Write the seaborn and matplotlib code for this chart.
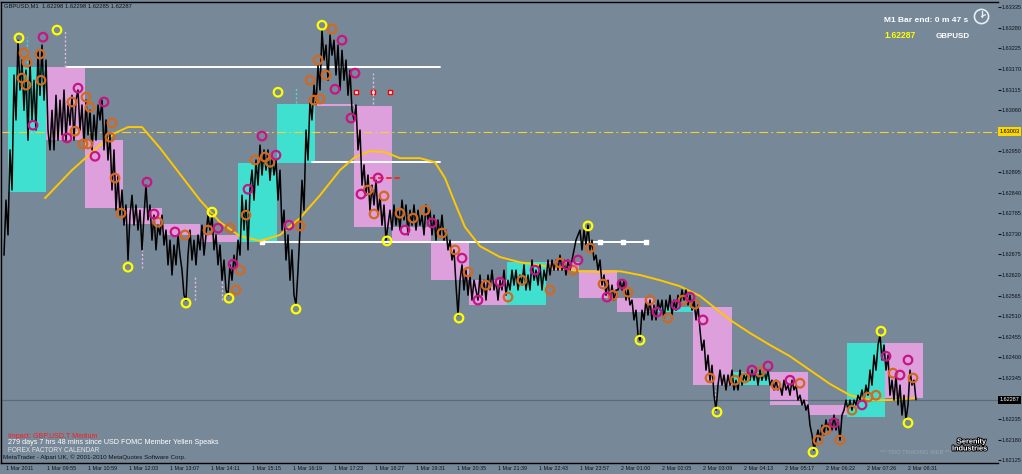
import numpy as np
import matplotlib
matplotlib.use('Agg')
import matplotlib.pyplot as plt
import matplotlib.patheffects as pe
from matplotlib.transforms import ScaledTranslation, blended_transform_factory
from matplotlib.patches import Circle
import seaborn as sns

# GBPUSD M1 closes, 1 Mar 2011 08:51 -> 2 Mar 2011 09:10 (sampled every ~3 bars)
close_a = [1.62673, 1.62820, 1.62727, 1.62954, 1.62847, 1.63154, 1.63034, 1.63247, 1.63114, 1.63194, 1.63060, 1.63167,
           1.62980, 1.63194, 1.63034, 1.63140, 1.63007, 1.63220, 1.63100, 1.63234, 1.63087, 1.63194, 1.63007, 1.62954]
close_b = [1.63060, 1.62954, 1.63100, 1.62980, 1.63087, 1.62994, 1.63114, 1.62980, 1.63074, 1.63020, 1.63100, 1.62980,
           1.63087, 1.63114, 1.63007, 1.63074, 1.62967, 1.63087, 1.62994, 1.63060, 1.62954, 1.63047, 1.62980, 1.63074,
           1.63034, 1.63087, 1.62954, 1.63034, 1.62927, 1.62994, 1.62847, 1.62954, 1.62793, 1.62887, 1.62780, 1.62847]
close_c = [1.62753, 1.62807, 1.62660, 1.62780, 1.62833, 1.62753, 1.62807, 1.62740, 1.62793, 1.62687, 1.62780, 1.62860,
           1.62767, 1.62807, 1.62713, 1.62780, 1.62687, 1.62753, 1.62727, 1.62780, 1.62700, 1.62740, 1.62647, 1.62713,
           1.62620, 1.62700, 1.62647, 1.62727, 1.62673, 1.62633, 1.62566, 1.62553, 1.62673, 1.62740, 1.62660, 1.62713,
           1.62647, 1.62727, 1.62687, 1.62753, 1.62673, 1.62727, 1.62780, 1.62740, 1.62780, 1.62687, 1.62727, 1.62647,
           1.62700, 1.62606, 1.62660, 1.62580, 1.62566, 1.62647, 1.62606, 1.62673, 1.62633, 1.62713, 1.62673]
close_d = [1.62833, 1.62740, 1.62820, 1.62687, 1.62847, 1.62900, 1.62820, 1.62927, 1.62860, 1.62967, 1.62887, 1.62954,
           1.62900, 1.62954, 1.62873, 1.62940, 1.62887, 1.62927, 1.62820, 1.62900, 1.62740, 1.62793, 1.62660, 1.62727,
           1.62606, 1.62687, 1.62566, 1.62540, 1.62633, 1.62740]
close_e = [1.62873, 1.62793, 1.63007, 1.62927, 1.63087, 1.63034, 1.63127, 1.63074, 1.63180, 1.63114, 1.63274, 1.63194,
           1.63234, 1.63140, 1.63261, 1.63207, 1.63247, 1.63154, 1.63234, 1.63114, 1.63220, 1.63140, 1.63194, 1.63100,
           1.63167, 1.63060, 1.63034, 1.63074, 1.62954, 1.63007]
close_f = [1.62860, 1.62914, 1.62833, 1.62887, 1.62793, 1.62860, 1.62807, 1.62873, 1.62780, 1.62833, 1.62753, 1.62807,
           1.62713, 1.62753, 1.62793, 1.62740, 1.62807, 1.62753, 1.62793, 1.62740, 1.62820, 1.62767, 1.62807, 1.62727,
           1.62793, 1.62753, 1.62807, 1.62740, 1.62793, 1.62753, 1.62780, 1.62727, 1.62807, 1.62767, 1.62793, 1.62727,
           1.62780, 1.62713, 1.62767, 1.62727, 1.62780, 1.62713, 1.62740, 1.62687]
close_g = [1.62713, 1.62660, 1.62687, 1.62593, 1.62513, 1.62606, 1.62647, 1.62580, 1.62633, 1.62566, 1.62620, 1.62553,
           1.62606, 1.62580, 1.62553, 1.62620, 1.62566, 1.62606, 1.62553, 1.62620, 1.62580, 1.62633, 1.62580, 1.62606,
           1.62553, 1.62606, 1.62580, 1.62633, 1.62566, 1.62606, 1.62580, 1.62633, 1.62593, 1.62633, 1.62580, 1.62620,
           1.62593, 1.62647, 1.62580, 1.62620, 1.62580, 1.62660, 1.62606, 1.62633, 1.62593, 1.62647, 1.62580, 1.62633,
           1.62606, 1.62660, 1.62620, 1.62660, 1.62633, 1.62660, 1.62633, 1.62673, 1.62633, 1.62660, 1.62620, 1.62660,
           1.62633, 1.62660, 1.62687, 1.62713, 1.62727, 1.62740, 1.62687, 1.62740, 1.62700, 1.62753, 1.62687, 1.62713,
           1.62660]
close_h = [1.62673, 1.62633, 1.62660, 1.62593, 1.62620, 1.62566, 1.62606, 1.62553, 1.62593, 1.62553, 1.62580, 1.62580,
           1.62606, 1.62580, 1.62606, 1.62553, 1.62580, 1.62540, 1.62553, 1.62500, 1.62526, 1.62460, 1.62446, 1.62526,
           1.62500, 1.62553, 1.62513, 1.62553, 1.62500, 1.62540, 1.62500, 1.62553, 1.62526, 1.62553, 1.62500, 1.62553,
           1.62526, 1.62566, 1.62513, 1.62553, 1.62526, 1.62566, 1.62540, 1.62580, 1.62553, 1.62580, 1.62540, 1.62566,
           1.62526, 1.62553, 1.62500, 1.62540, 1.62473]
close_i = [1.62419, 1.62446, 1.62366, 1.62406, 1.62339, 1.62379, 1.62299, 1.62259, 1.62326, 1.62366, 1.62326, 1.62353,
           1.62313, 1.62353, 1.62326, 1.62366, 1.62313, 1.62339, 1.62313, 1.62366, 1.62326, 1.62353, 1.62339, 1.62366,
           1.62339, 1.62366, 1.62339, 1.62366, 1.62326, 1.62366, 1.62339, 1.62366, 1.62339, 1.62366, 1.62326, 1.62339,
           1.62313, 1.62339, 1.62313, 1.62326, 1.62299, 1.62339, 1.62313, 1.62326, 1.62299, 1.62339, 1.62313, 1.62326,
           1.62286, 1.62299]
close_j = [1.62273, 1.62286, 1.62259, 1.62273, 1.62219, 1.62193, 1.62152, 1.62179, 1.62206, 1.62179, 1.62219, 1.62193,
           1.62233, 1.62206, 1.62233, 1.62206, 1.62246, 1.62206, 1.62233, 1.62179, 1.62246, 1.62259, 1.62286, 1.62259,
           1.62286, 1.62259, 1.62286, 1.62273, 1.62299, 1.62286, 1.62313, 1.62286, 1.62326, 1.62299, 1.62366, 1.62326,
           1.62406, 1.62366, 1.62433, 1.62460, 1.62393, 1.62433, 1.62366, 1.62406, 1.62299, 1.62339, 1.62286, 1.62353,
           1.62273, 1.62326, 1.62246, 1.62299, 1.62233, 1.62273, 1.62366, 1.62326, 1.62339, 1.62287]
close_prices = close_a + close_b + close_c + close_d + close_e + close_f + close_g + close_h + close_i + close_j
bar_idx = np.arange(len(close_prices))

# moving average
ma_x = [20.5, 34, 48, 55.5, 62, 69, 78, 86.5, 98, 108, 118, 128, 138, 148, 158, 168, 175.5, 183, 190.5, 198, 208,
        215.5, 220.5, 225.5, 230.5, 238, 248, 258, 268, 278, 288, 298, 308, 318, 328, 338, 348, 355.5, 363, 373, 383,
        393, 403, 413, 423, 433, 443, 455.5]
ma_y = [1.62825, 1.62900, 1.62967, 1.62999, 1.63015, 1.63015, 1.62959, 1.62900, 1.62820, 1.62761, 1.62724, 1.62711,
        1.62727, 1.62772, 1.62833, 1.62900, 1.62935, 1.62951, 1.62948, 1.62932, 1.62932, 1.62921, 1.62879, 1.62812,
        1.62748, 1.62697, 1.62668, 1.62654, 1.62646, 1.62638, 1.62630, 1.62628, 1.62630, 1.62620, 1.62606, 1.62590,
        1.62564, 1.62532, 1.62500, 1.62465, 1.62433, 1.62403, 1.62366, 1.62329, 1.62299, 1.62286, 1.62286, 1.62291]

# hourly open / close boxes
hour_edges = [2, 21, 40.5, 59.5, 79, 98, 117, 136.5, 155.5, 175, 194, 213.5, 232.5, 251.5, 271, 287.5, 306.5, 325.5,
              344.5, 364, 383, 402, 421.5, 440.5, 459.5]
hour_open = [1.62841, 1.63175, 1.62980, 1.62799, 1.62756, 1.62727, 1.62708, 1.62919, 1.63076, 1.63071, 1.62748,
             1.62705, 1.62606, 1.62540, 1.62654, 1.62633, 1.62558, 1.62521, 1.62534, 1.62326, 1.62361, 1.62273,
             1.62241, 1.62438]
hour_close = [1.63175, 1.62980, 1.62799, 1.62756, 1.62727, 1.62708, 1.62919, 1.63076, 1.63071, 1.62748, 1.62705,
              1.62606, 1.62540, 1.62654, 1.62633, 1.62558, 1.62521, 1.62534, 1.62326, 1.62361, 1.62273, 1.62246,
              1.62438, 1.62291]

# fractal circles
yellow_x = [7.5, 26.5, 137, 159, 62, 91, 104, 112.5, 146, 191.5, 227.5, 292, 318, 356.5, 404.5, 438.5, 452]
yellow_y = [1.63253, 1.63274, 1.63108, 1.63287, 1.62641, 1.62545, 1.62788, 1.62558, 1.62529, 1.62711, 1.62505,
            1.62751, 1.62446, 1.62254, 1.62147, 1.62470, 1.62225]
orange_x = [10, 11.5, 18, 9, 11, 18.5, 34, 41, 43, 35.5, 39.5, 42, 54, 53, 164, 157, 161, 158, 55.5, 58.5, 77, 90.5,
            102, 113, 121, 125.5, 130.5, 133, 116, 118, 148, 153, 155, 182, 185, 190, 198, 204.5, 210.5, 219, 225.5,
            232, 241, 252, 259, 273, 278, 284.5, 293, 299.5, 304.5, 312, 323, 332, 339.5, 345.5, 353, 365.5, 370.5,
            378, 386, 398, 407, 411, 418, 424, 432, 436, 444.5, 454.5]
orange_y = [1.63213, 1.63188, 1.63210, 1.63146, 1.63127, 1.63140, 1.63082, 1.63095, 1.63068, 1.63004, 1.62970,
            1.62970, 1.63026, 1.62988, 1.63277, 1.63194, 1.63154, 1.63090, 1.62879, 1.62785, 1.62761, 1.62727,
            1.62740, 1.62745, 1.62780, 1.62927, 1.62935, 1.62921, 1.62580, 1.62633, 1.62751, 1.63140, 1.63087,
            1.62847, 1.62783, 1.62831, 1.62785, 1.62772, 1.62793, 1.62732, 1.62687, 1.62628, 1.62593, 1.62561,
            1.62606, 1.62580, 1.62652, 1.62633, 1.62692, 1.62596, 1.62566, 1.62574, 1.62553, 1.62505, 1.62553,
            1.62542, 1.62345, 1.62339, 1.62345, 1.62361, 1.62326, 1.62331, 1.62179, 1.62206, 1.62179, 1.62259,
            1.62294, 1.62299, 1.62358, 1.62345]
magenta_x = [19.5, 14.5, 37, 50, 31.5, 45.5, 169, 165.5, 175.5, 173.5, 71.5, 75, 85.5, 107, 114.5, 122, 129, 136,
             142.5, 178.5, 187, 200.5, 214, 229, 237, 248, 265.5, 281.5, 287, 301.5, 309, 326.5, 336, 343, 349.5,
             374, 382, 393, 415, 429, 441, 448, 452]
magenta_y = [1.63255, 1.63020, 1.63119, 1.63082, 1.62986, 1.62937, 1.63247, 1.63116, 1.63159, 1.63039, 1.62868,
             1.62783, 1.62735, 1.62745, 1.62649, 1.62849, 1.62991, 1.62940, 1.62753, 1.62836, 1.62879, 1.62740,
             1.62759, 1.62665, 1.62553, 1.62601, 1.62633, 1.62647, 1.62660, 1.62561, 1.62596, 1.62521, 1.62540,
             1.62561, 1.62500, 1.62366, 1.62377, 1.62339, 1.62225, 1.62273, 1.62403, 1.62353, 1.62393]

# horizontal levels
level_price = [1.63175, 1.62921, 1.62708]
level_from = [31.5, 154, 129]
level_to = [218, 218, 321]
level_marks = [129, 298, 309.5, 321]
pivot_price = 1.63003
bid_price = 1.62287
red_level = 1.62879
red_level_from, red_level_to = 183, 199
red_marks_x = [176, 184.5, 193]
red_marks_y = [1.63108, 1.63108, 1.63108]

# dotted vertical markers: x, top, bottom, colour name
vmark_x = [11.5, 30.5, 146, 184.5, 69, 95.5, 109, 355.5]
vmark_top = [1.63255, 1.63274, 1.63119, 1.63159, 1.62713, 1.62620, 1.62606, 1.62313]
vmark_bot = [1.63175, 1.63175, 1.63079, 1.63076, 1.62638, 1.62553, 1.62553, 1.62254]
vmark_kind = ['cyan', 'pink', 'cyan', 'pink', 'pink', 'pink', 'pink', 'pink']

time_labels = ['1 Mar 2011', '1 Mar 09:55', '1 Mar 10:59', '1 Mar 12:03', '1 Mar 13:07', '1 Mar 14:11',
               '1 Mar 15:15', '1 Mar 16:19', '1 Mar 17:23', '1 Mar 18:27', '1 Mar 19:31', '1 Mar 20:35',
               '1 Mar 21:39', '1 Mar 22:43', '1 Mar 23:57', '2 Mar 01:00', '2 Mar 02:05', '2 Mar 03:09',
               '2 Mar 04:13', '2 Mar 05:17', '2 Mar 06:22', '2 Mar 07:26', '2 Mar 08:31']
price_ticks = [1.62125, 1.62180, 1.62235, 1.62345, 1.62400, 1.62455, 1.62510, 1.62565, 1.62620, 1.62675,
               1.62730, 1.62785, 1.62840, 1.62895, 1.62950, 1.63060, 1.63115, 1.63170, 1.63225, 1.63280, 1.63335]

BG = '#778899'
TURQ = '#40E0D0'
PLUM = '#DDA0DD'
INK = '#10141c'

sns.set_theme(style='white', rc={'axes.facecolor': BG, 'figure.facecolor': BG})
plt.rcParams['font.family'] = ['Liberation Sans', 'DejaVu Sans']

fig = plt.figure(figsize=(10.22, 4.74), dpi=100)
ax = fig.add_axes([1 / 1022, 11 / 474, 997 / 1022, 461 / 474])
ax.set_facecolor(BG)

# hourly boxes
for i in range(len(hour_open)):
    o, c = hour_open[i], hour_close[i]
    col = TURQ if c > o else PLUM
    ax.bar(hour_edges[i], c - o, bottom=o, width=hour_edges[i + 1] - hour_edges[i], align='edge',
           color=col, linewidth=0, zorder=1)

# levels
ax.axhline(pivot_price, color='#F2D230', lw=0.8, ls=(0, (8, 3, 1.5, 3)), zorder=1.5)
ax.axhline(bid_price, color='#5d6b79', lw=0.9, zorder=1.5)
for p, a, b in zip(level_price, level_from, level_to):
    ax.plot([a, b], [p, p], color='white', lw=1.4, zorder=2)
ax.scatter(level_marks, [level_price[2]] * len(level_marks), marker='s', s=5, color='white', zorder=2)
ax.plot([red_level_from, red_level_to], [red_level, red_level], color='#ff2020', lw=1.3, ls=(0, (3, 1.5)), zorder=2)
ax.scatter(red_marks_x, red_marks_y, marker='s', s=9, facecolors='white', edgecolors='red', linewidths=1.0, zorder=2)

for x, t, b, k in zip(vmark_x, vmark_top, vmark_bot, vmark_kind):
    ax.plot([x, x], [b, t], color=TURQ if k == 'cyan' else '#e6b8e6', lw=1.0, ls=(0, (1.5, 1.5)), zorder=2)

# moving average and price
sns.lineplot(x=ma_x, y=ma_y, ax=ax, color='#FFC800', lw=1.4, zorder=2.5)
sns.lineplot(x=bar_idx, y=close_prices, ax=ax, color='black', lw=1.1, zorder=3)

# fractal circles
for xs, ys, col in [(orange_x, orange_y, '#D2691E'), (magenta_x, magenta_y, '#C71585'), (yellow_x, yellow_y, '#FFFF00')]:
    ax.scatter(xs, ys, s=38, facecolors='none', edgecolors=col, linewidths=1.6, zorder=4)

ax.set_xlim(-1.5, 497)
ax.set_ylim(1.62118, 1.63349)

# axes look
for side in ['left', 'top', 'bottom']:
    ax.spines[side].set_color('black')
    ax.spines[side].set_linewidth(1.0)
ax.spines['right'].set_visible(False)
ax.grid(False)

ax.yaxis.tick_right()
ax.set_yticks(price_ticks)
ax.set_yticklabels([f'{v:.5f}' for v in price_ticks], fontsize=4.0, color=INK)
ax.tick_params(axis='y', direction='out', length=2.0, width=0.8, color=INK, pad=0.6)

tick_pos = -0.5 + 20.5 * np.arange(len(time_labels))
ax.set_xticks(tick_pos)
ax.set_xticklabels(time_labels, fontsize=3.9, color=INK, ha='left')
ax.tick_params(axis='x', direction='out', length=4, width=0.8, color=INK, pad=-2.0)
shift = ScaledTranslation(2.5 / 100, 0, fig.dpi_scale_trans)
for lbl in ax.get_xticklabels():
    lbl.set_transform(lbl.get_transform() + shift)
ax.set_xlabel('')
ax.set_ylabel('')

# price flags on the scale
yt = blended_transform_factory(ax.transAxes, ax.transData)
ax.text(1.0015, pivot_price, '1.63003', transform=yt, fontsize=4.0, color='black', va='center', ha='left',
        bbox=dict(boxstyle='square,pad=0.3', fc='#FFD700', ec='none'), clip_on=False)
ax.text(1.0015, bid_price, '1.62287', transform=yt, fontsize=4.0, color='white', va='center', ha='left',
        bbox=dict(boxstyle='square,pad=0.3', fc='black', ec='none'), clip_on=False)

# header / info texts
def px(x, y):
    return x / 1022, 1 - y / 474

fig.text(*px(4, 6), 'GBPUSD,M1  1.62298 1.62298 1.62285 1.62287', fontsize=4.2, color=INK, va='center')
fig.text(*px(884, 20), 'M1 Bar end: 0 m 47 s', fontsize=6.0, color='white', weight='bold', va='center')
fig.text(*px(884, 36), '1.62287', fontsize=6.2, color='#FFFF00', weight='bold', va='center')
fig.text(*px(936, 36), 'GBPUSD', fontsize=5.8, color='white', weight='bold', va='center')

fig.text(*px(8, 436), 'Impact: GBP,USD,T Medium', fontsize=5.0, color='#ff1a1a', va='center')
fig.text(*px(8, 443), '279 days 7 hrs 48 mins since USD FOMC Member Yellen Speaks', fontsize=5.2, color='white',
         va='center')
fig.text(*px(8, 450), 'FOREX FACTORY CALENDAR', fontsize=4.7, color='#e4e4e4', va='center')
fig.text(*px(3, 457), 'MetaTrader - Alpari UK, \u00a9 2001-2010 MetaQuotes Software Corp.', fontsize=4.5,
         color=INK, va='center')

fig.text(*px(880, 453), '*** TRO TRADING WEB ***', fontsize=4.2, color='#98a4b0', va='center')
outline = [pe.withStroke(linewidth=1.4, foreground='black')]
fig.text(*px(957, 442), 'Serenity', fontsize=5.3, color='white', weight='bold', va='center', path_effects=outline)
fig.text(*px(952, 449), 'Industries', fontsize=5.3, color='white', weight='bold', va='center', path_effects=outline)

# clock icon
cax = fig.add_axes([973 / 1022, 1 - 25 / 474, 17 / 1022, 17 / 474])
cax.set_xlim(-1.2, 1.2)
cax.set_ylim(-1.2, 1.2)
cax.set_aspect('equal')
cax.axis('off')
cax.add_patch(Circle((0, 0), 1.0, fill=False, ec='#e6eef6', lw=1.2))
cax.plot([0, 0], [0, 0.75], color='#e6eef6', lw=1.0)
cax.plot([0, 0.55], [0, 0.25], color='#e6eef6', lw=1.0)

fig.savefig('out.png', dpi=100, facecolor=BG)
